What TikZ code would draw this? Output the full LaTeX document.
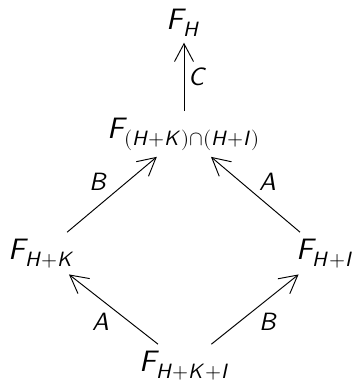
\documentclass[tikz,border=0pt]{standalone}
\usepackage{unicode-math}
\setmathfont{Latin Modern Math}
\usepackage{tikz}
\usetikzlibrary{arrows.meta}

\begin{document}
\begin{tikzpicture}[x=0.42pt, y=-0.42pt,
  obj/.style={anchor=base, inner sep=2.5pt, font=\fontsize{12.4}{15}\selectfont},
  lbl/.style={inner sep=1.5pt, font=\fontsize{10.5}{12}\selectfont},
  map/.style={-{Straight Barb[length=7.5pt, width=8pt]}, line width=0.4pt}]
  \useasboundingbox (0,0) rectangle (355,383);
  % objects
  \node[obj] (FH) at (184,29) {$\symsfit{F_H}$};
  \node[obj] (Fint) at (184,138) {$\symsfit{F_{(H+K)\cap(H+I)}}$};
  \node[obj] (FHK) at (42,259) {$\symsfit{F_{H+K}}$};
  \node[obj] (FHI) at (325,259) {$\symsfit{F_{H+I}}$};
  \node[obj] (FHKI) at (185,371) {$\symsfit{F_{H+K+I}}$};
  % maps
  \draw[map] (Fint) -- node[lbl, anchor=west] (lC) {$\symsfit{C}$} (FH);
  \draw[map] (FHK) -- node[lbl, anchor=south east] (lBu) {$\symsfit{B}$} (Fint);
  \draw[map] (FHI) -- node[lbl, anchor=south west] (lAu) {$\symsfit{A}$} (Fint);
  \draw[map] (FHKI) -- node[lbl, anchor=north east] (lAd) {$\symsfit{A}$} (FHK);
  \draw[map] (FHKI) -- node[lbl, anchor=north west] (lBd) {$\symsfit{B}$} (FHI);
\end{tikzpicture}
\end{document}
